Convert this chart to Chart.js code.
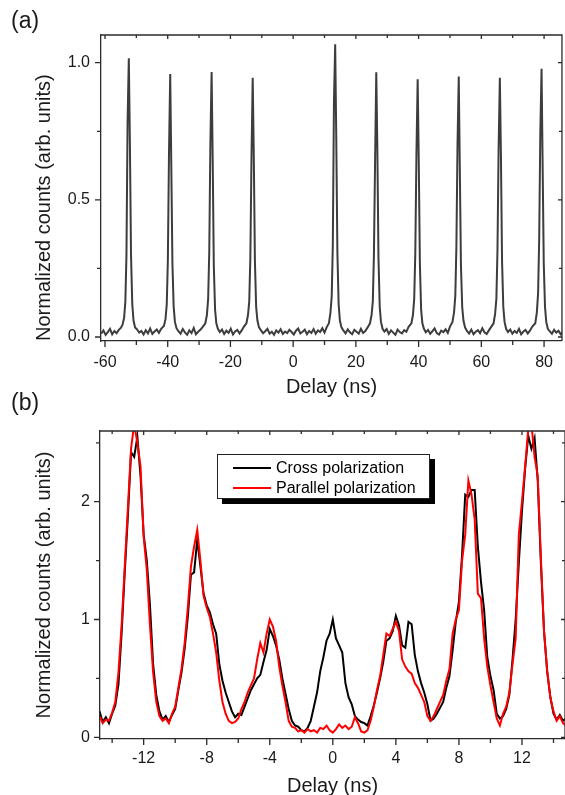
<!DOCTYPE html>
<html>
<head>
<meta charset="utf-8">
<script src="https://cdn.jsdelivr.net/npm/chart.js@4.4.1/dist/chart.umd.min.js"></script>
<style>
  body { margin: 0; background: #fff; width: 565px; height: 795px; overflow: hidden; position: relative;
         font-family: "Liberation Sans", Arial, sans-serif; color: #1a1a1a; }
  canvas { position: absolute; left: 0; }
  #chartA { top: 0; }
  #chartB { top: 400px; }
  .panel { position: absolute; left: 11px; font-size: 23px; line-height: 23px; }
  #legend { position: absolute; left: 217px; top: 454px; width: 213px; height: 45px; box-sizing: border-box;
            border: 1px solid #222; background: #fff; box-shadow: 5px 5px 0 #000; }
  .row { position: absolute; left: 15px; height: 20px; display: flex; align-items: center; font-size: 16px; white-space: nowrap; color: #000; }
  .swatch { display: inline-block; width: 38px; border-top: 2px solid; margin-right: 5px; }
</style>
</head>
<body>
<canvas id="chartA" width="565" height="400"></canvas>
<canvas id="chartB" width="565" height="400"></canvas>
<div class="panel" style="top: 9px;">(a)</div>
<div class="panel" style="top: 391px;">(b)</div>
<div id="legend">
  <div class="row" style="top: 3px;"><span class="swatch" style="border-color: #000;"></span>Cross polarization</div>
  <div class="row" style="top: 23px;"><span class="swatch" style="border-color: #f00;"></span>Parallel polarization</div>
</div>
<script>
// panel (a): delay in ns, normalized counts
const delayA = [
  -61.2, -60.5, -59.8, -59.1, -58.4, -57.7, -57.0, -56.3, -55.6, -54.9,
  -54.4, -53.9, -53.5, -53.15, -52.8, -52.4, -52.05, -51.7, -51.3, -50.9, -50.4,
  -49.8, -49.1, -48.4, -47.7, -47.0, -46.3, -45.6, -44.9, -44.2, -43.5, -42.8, -42.1,
  -41.2, -40.7, -40.3, -39.95, -39.6, -39.2, -38.85, -38.5, -38.1, -37.7, -37.2,
  -36.6, -35.9, -35.2, -34.5, -33.8, -33.1, -32.4, -31.7, -31.0, -30.3, -29.6, -28.9,
  -28.0, -27.5, -27.1, -26.75, -26.4, -26.0, -25.65, -25.3, -24.9, -24.5, -24.0,
  -23.4, -22.7, -22.0, -21.3, -20.6, -19.9, -19.2, -18.5, -17.8, -17.1, -16.4, -15.7,
  -14.9, -14.4, -14.0, -13.65, -13.3, -12.9, -12.55, -12.2, -11.8, -11.4, -10.9,
  -10.3, -9.6, -8.9, -8.2, -7.5, -6.8, -6.1, -5.4, -4.7, -4.0, -3.3, -2.6, -1.9, -1.2, -0.5,
  0.2, 0.9, 1.6, 2.3, 3.0, 3.7, 4.4, 5.1, 5.8, 6.5, 7.2, 7.9, 8.6, 9.3, 10.0, 10.7,
  11.4, 11.9, 12.3, 12.65, 13.0, 13.4, 13.75, 14.1, 14.5, 14.9, 15.4,
  16.0, 16.7, 17.4, 18.1, 18.8, 19.5, 20.2, 20.9, 21.6, 22.3, 23.0, 23.7,
  24.5, 25.0, 25.4, 25.75, 26.1, 26.5, 26.85, 27.2, 27.6, 28.0, 28.5,
  29.1, 29.8, 30.5, 31.2, 31.9, 32.6, 33.3, 34.0, 34.7, 35.4, 36.1, 36.8,
  37.7, 38.2, 38.6, 38.95, 39.3, 39.7, 40.05, 40.4, 40.8, 41.2, 41.7,
  42.3, 43.0, 43.7, 44.4, 45.1, 45.8, 46.5, 47.2, 47.9, 48.6, 49.3, 50.0,
  50.8, 51.3, 51.7, 52.05, 52.4, 52.8, 53.15, 53.5, 53.9, 54.3, 54.8,
  55.4, 56.1, 56.8, 57.5, 58.2, 58.9, 59.6, 60.3, 61.0, 61.7, 62.4, 63.1,
  63.9, 64.4, 64.8, 65.15, 65.5, 65.9, 66.25, 66.6, 67.0, 67.4, 67.9,
  68.5, 69.2, 69.9, 70.6, 71.3, 72.0, 72.7, 73.4, 74.1, 74.8, 75.5, 76.2,
  77.2, 77.7, 78.1, 78.45, 78.8, 79.2, 79.55, 79.9, 80.3, 80.7, 81.2,
  81.8, 82.5, 83.2, 83.9, 84.6, 85.3, 86.0
];
const countsA = [
  0.012, 0.024, 0.008, 0.018, 0.030, 0.010, 0.022, 0.014, 0.026, 0.034,
  0.045, 0.07, 0.13, 0.30, 0.78, 1.016, 0.70, 0.30, 0.12, 0.06, 0.035,
  0.028, 0.016, 0.022, 0.009, 0.025, 0.013, 0.031, 0.011, 0.020, 0.027, 0.015, 0.030,
  0.04, 0.065, 0.12, 0.28, 0.66, 0.959, 0.62, 0.27, 0.11, 0.055, 0.032,
  0.021, 0.012, 0.029, 0.017, 0.008, 0.024, 0.014, 0.033, 0.010, 0.019, 0.026, 0.036,
  0.05, 0.08, 0.14, 0.31, 0.70, 0.966, 0.64, 0.26, 0.10, 0.05, 0.03,
  0.018, 0.027, 0.011, 0.023, 0.015, 0.030, 0.009, 0.020, 0.026, 0.013, 0.024, 0.038,
  0.05, 0.08, 0.13, 0.29, 0.64, 0.945, 0.66, 0.28, 0.11, 0.06, 0.035,
  0.025, 0.014, 0.021, 0.030, 0.012, 0.019, 0.008, 0.024, 0.016, 0.028, 0.011, 0.020, 0.014, 0.026, 0.018,
  0.009, 0.023, 0.031, 0.013, 0.019, 0.027, 0.010, 0.022, 0.015, 0.029, 0.012, 0.024, 0.018, 0.032, 0.016, 0.036,
  0.05, 0.09, 0.15, 0.34, 0.85, 1.067, 0.72, 0.31, 0.12, 0.06, 0.035,
  0.024, 0.013, 0.028, 0.017, 0.010, 0.026, 0.019, 0.012, 0.030, 0.015, 0.022, 0.034,
  0.05, 0.08, 0.13, 0.30, 0.62, 0.965, 0.68, 0.29, 0.11, 0.055, 0.03,
  0.020, 0.029, 0.011, 0.024, 0.016, 0.008, 0.027, 0.018, 0.013, 0.025, 0.019, 0.037,
  0.05, 0.08, 0.14, 0.31, 0.66, 0.94, 0.64, 0.27, 0.10, 0.05, 0.03,
  0.017, 0.026, 0.012, 0.021, 0.031, 0.014, 0.009, 0.023, 0.018, 0.028, 0.015, 0.038,
  0.055, 0.09, 0.15, 0.33, 0.70, 0.95, 0.60, 0.26, 0.11, 0.06, 0.035,
  0.022, 0.013, 0.027, 0.010, 0.019, 0.025, 0.014, 0.032, 0.017, 0.011, 0.024, 0.036,
  0.05, 0.085, 0.14, 0.32, 0.68, 0.945, 0.66, 0.28, 0.11, 0.055, 0.03,
  0.018, 0.027, 0.012, 0.022, 0.015, 0.030, 0.010, 0.020, 0.026, 0.013, 0.023, 0.037,
  0.05, 0.09, 0.16, 0.36, 0.74, 0.978, 0.62, 0.27, 0.11, 0.055, 0.03,
  0.021, 0.012, 0.026, 0.016, 0.023, 0.010, 0.019
];
const xTicksA = [-60, -50, -40, -30, -20, -10, 0, 10, 20, 30, 40, 50, 60, 70, 80];
const yTicksA = [0, 0.25, 0.5, 0.75, 1.0];

// panel (b): delay in ns, two polarizations
const delayB = [
  -14.8, -14.6, -14.4, -14.2, -14.0, -13.8, -13.6, -13.4, -13.2, -13.0,
  -12.8, -12.6, -12.4, -12.2, -12.0, -11.8, -11.6, -11.4, -11.2, -11.0,
  -10.8, -10.6, -10.4, -10.2, -10.0, -9.8, -9.6, -9.4, -9.2, -9.0,
  -8.8, -8.6, -8.4, -8.2, -8.0, -7.8, -7.6, -7.4, -7.2, -7.0,
  -6.8, -6.6, -6.4, -6.2, -6.0, -5.8, -5.6, -5.4, -5.2, -5.0,
  -4.8, -4.6, -4.4, -4.2, -4.0, -3.8, -3.6, -3.4, -3.2, -3.0,
  -2.8, -2.6, -2.4, -2.2, -2.0, -1.8, -1.6, -1.4, -1.2, -1.0,
  -0.8, -0.6, -0.4, -0.2, 0.0, 0.2, 0.4, 0.6, 0.8, 1.0,
  1.2, 1.4, 1.6, 1.8, 2.0, 2.2, 2.4, 2.6, 2.8, 3.0,
  3.2, 3.4, 3.6, 3.8, 4.0, 4.2, 4.4, 4.6, 4.8, 5.0,
  5.2, 5.4, 5.6, 5.8, 6.0, 6.2, 6.4, 6.6, 6.8, 7.0,
  7.2, 7.4, 7.6, 7.8, 8.0, 8.2, 8.4, 8.6, 8.8, 9.0,
  9.2, 9.4, 9.6, 9.8, 10.0, 10.2, 10.4, 10.6, 10.8, 11.0,
  11.2, 11.4, 11.6, 11.8, 12.0, 12.2, 12.4, 12.6, 12.8, 13.0,
  13.2, 13.4, 13.6, 13.8, 14.0, 14.2, 14.4, 14.6, 14.8
];
const crossPol = [
  0.22, 0.13, 0.17, 0.12, 0.20, 0.27, 0.45, 0.88, 1.40, 1.88,
  2.42, 2.38, 2.55, 2.22, 1.72, 1.50, 1.12, 0.62, 0.36, 0.22,
  0.15, 0.18, 0.13, 0.19, 0.24, 0.40, 0.55, 0.75, 1.02, 1.38,
  1.40, 1.68, 1.45, 1.22, 1.12, 1.06, 0.96, 0.88, 0.62, 0.48,
  0.38, 0.30, 0.22, 0.17, 0.20, 0.19, 0.26, 0.33, 0.40, 0.45,
  0.50, 0.53, 0.64, 0.74, 0.92, 0.86, 0.78, 0.66, 0.50, 0.37,
  0.24, 0.14, 0.10, 0.09, 0.06, 0.05, 0.08, 0.14, 0.26, 0.38,
  0.56, 0.68, 0.82, 0.88, 1.00, 0.84, 0.78, 0.72, 0.46, 0.34,
  0.28, 0.18, 0.15, 0.13, 0.12, 0.10, 0.18, 0.27, 0.38, 0.50,
  0.64, 0.82, 0.84, 0.90, 1.03, 0.95, 0.78, 0.76, 0.98, 0.96,
  0.70, 0.56, 0.46, 0.38, 0.28, 0.14, 0.16, 0.20, 0.25, 0.30,
  0.42, 0.52, 0.74, 0.98, 1.15, 1.55, 2.06, 2.04, 2.10, 2.10,
  1.62, 1.32, 1.08, 0.68, 0.52, 0.40, 0.20, 0.16, 0.18, 0.24,
  0.36, 0.66, 1.00, 1.48, 1.92, 2.28, 2.56, 2.45, 2.54, 2.18,
  1.48, 0.90, 0.56, 0.34, 0.20, 0.15, 0.19, 0.14, 0.16
];
const parallelPol = [
  0.18, 0.12, 0.15, 0.14, 0.21, 0.30, 0.55, 0.95, 1.45, 1.95,
  2.45, 2.66, 2.50, 2.30, 1.70, 1.42, 0.95, 0.55, 0.30, 0.18,
  0.14, 0.16, 0.12, 0.20, 0.26, 0.42, 0.58, 0.80, 1.10, 1.45,
  1.62, 1.76, 1.50, 1.20, 1.10, 1.02, 0.88, 0.72, 0.48, 0.30,
  0.20, 0.14, 0.12, 0.13, 0.16, 0.24, 0.30, 0.38, 0.44, 0.50,
  0.66, 0.80, 0.72, 0.88, 1.00, 0.94, 0.82, 0.60, 0.44, 0.30,
  0.14, 0.09, 0.08, 0.05, 0.06, 0.04, 0.07, 0.05, 0.06, 0.04,
  0.08, 0.07, 0.10, 0.06, 0.04, 0.07, 0.11, 0.08, 0.10, 0.07,
  0.09, 0.17, 0.12, 0.05, 0.04, 0.06, 0.14, 0.26, 0.40, 0.52,
  0.70, 0.88, 0.86, 0.92, 0.98, 0.90, 0.66, 0.60, 0.56, 0.54,
  0.46, 0.42, 0.36, 0.30, 0.18, 0.14, 0.18, 0.24, 0.30, 0.36,
  0.48, 0.58, 0.88, 1.00, 1.08, 1.50, 1.72, 2.18, 2.06, 1.85,
  1.22, 1.18, 0.84, 0.60, 0.44, 0.30, 0.16, 0.10, 0.20, 0.26,
  0.38, 0.62, 0.84, 1.72, 2.00, 2.30, 2.62, 2.66, 2.38, 2.22,
  1.52, 0.90, 0.56, 0.34, 0.22, 0.14, 0.18, 0.12, 0.10
];
const xTicksB = [-14, -12, -10, -8, -6, -4, -2, 0, 2, 4, 6, 8, 10, 12, 14];
const yTicksB = [0, 0.5, 1, 1.5, 2, 2.5];

Chart.defaults.font.family = '"Liberation Sans", Arial, sans-serif';
Chart.defaults.color = '#1a1a1a';

const axisColor = '#2b2b2b';

// closes the box (top + right) and draws all tick marks, long ones where there is a label
const framePlugin = {
  id: 'frame',
  afterDraw(chart) {
    const { ctx, chartArea: area, scales } = chart;
    const xs = scales.x;
    const ys = scales.y;
    ctx.save();
    ctx.strokeStyle = axisColor;
    ctx.lineWidth = 1.3;
    ctx.beginPath();
    ctx.moveTo(area.left, area.top);
    ctx.lineTo(area.right, area.top);
    ctx.lineTo(area.right, area.bottom);
    xs.ticks.forEach(t => {
      const px = xs.getPixelForValue(t.value);
      const major = t.label !== '';
      ctx.moveTo(px, area.bottom);
      ctx.lineTo(px, area.bottom + (major ? 6 : 4));
      ctx.moveTo(px, area.top);
      ctx.lineTo(px, area.top + (major ? 4 : 3));
    });
    ys.ticks.forEach(t => {
      const py = ys.getPixelForValue(t.value);
      const major = t.label !== '';
      ctx.moveTo(area.left, py);
      ctx.lineTo(area.left - (major ? 6 : 4), py);
      ctx.moveTo(area.right, py);
      ctx.lineTo(area.right - (major ? 4 : 3), py);
    });
    ctx.stroke();
    ctx.restore();
  }
};

const yTitleText = 'Normalized counts (arb. units)';

new Chart(document.getElementById('chartA'), {
  type: 'line',
  data: {
    datasets: [{
      data: delayA.map((d, i) => ({ x: d, y: countsA[i] })),
      borderColor: '#3d3d3d',
      borderWidth: 2,
      pointRadius: 0,
      tension: 0,
      clip: 0
    }]
  },
  options: {
    responsive: false,
    animation: false,
    devicePixelRatio: 1,
    layout: { padding: { top: 35, right: 1, left: 0, bottom: 0 } },
    plugins: { legend: { display: false }, tooltip: { enabled: false } },
    scales: {
      x: {
        type: 'linear',
        min: -61.27,
        max: 85.71,
        afterBuildTicks: s => { s.ticks = xTicksA.map(v => ({ value: v })); },
        afterFit: s => { s.height = 59; },
        grid: { display: false, drawTicks: false },
        border: { display: true, color: axisColor, width: 1.3 },
        ticks: { padding: 12, autoSkip: false, maxRotation: 0, font: { size: 16 },
                 callback: v => (v % 20 === 0 ? String(v) : '') },
        title: { display: true, text: 'Delay (ns)', font: { size: 20 }, padding: { top: 0, bottom: 1 } }
      },
      y: {
        min: -0.0146,
        max: 1.101,
        afterBuildTicks: s => { s.ticks = yTicksA.map(v => ({ value: v })); },
        afterFit: s => { s.width = 101; },
        grid: { display: false, drawTicks: false },
        border: { display: true, color: axisColor, width: 1.3 },
        ticks: { padding: 11, autoSkip: false, font: { size: 16 },
                 callback: v => (Math.abs(v % 0.5) < 1e-9 ? v.toFixed(1) : '') },
        // in (a) the label starts at the x axis instead of being centred
        title: { display: true, text: yTitleText, font: { size: 20 }, align: 'start', padding: { top: 32, bottom: 0 } }
      }
    }
  },
  plugins: [framePlugin]
});

new Chart(document.getElementById('chartB'), {
  type: 'line',
  data: {
    datasets: [
      {
        label: 'Cross polarization',
        data: delayB.map((d, i) => ({ x: d, y: crossPol[i] })),
        borderColor: '#000',
        borderWidth: 2,
        pointRadius: 0,
        tension: 0,
        clip: 0,
        order: 1
      },
      {
        label: 'Parallel polarization',
        data: delayB.map((d, i) => ({ x: d, y: parallelPol[i] })),
        borderColor: '#f00',
        borderWidth: 2,
        pointRadius: 0,
        tension: 0,
        clip: 0,
        order: 0
      }
    ]
  },
  options: {
    responsive: false,
    animation: false,
    devicePixelRatio: 1,
    layout: { padding: { top: 31, right: 0, left: 0, bottom: 0 } },
    plugins: { legend: { display: false }, tooltip: { enabled: false } },
    scales: {
      x: {
        type: 'linear',
        min: -14.77,
        max: 14.73,
        afterBuildTicks: s => { s.ticks = xTicksB.map(v => ({ value: v })); },
        afterFit: s => { s.height = 61; },
        grid: { display: false, drawTicks: false },
        border: { display: true, color: axisColor, width: 1.3 },
        ticks: { padding: 10, autoSkip: false, maxRotation: 0, font: { size: 16 },
                 callback: v => (v % 4 === 0 ? String(v) : '') },
        title: { display: true, text: 'Delay (ns)', font: { size: 20 }, padding: { top: 0, bottom: 2 } }
      },
      y: {
        min: -0.0144,
        max: 2.6,
        afterBuildTicks: s => { s.ticks = yTicksB.map(v => ({ value: v })); },
        afterFit: s => { s.width = 100; },
        grid: { display: false, drawTicks: false },
        border: { display: true, color: axisColor, width: 1.3 },
        ticks: { padding: 10, autoSkip: false, font: { size: 16 },
                 callback: v => (Number.isInteger(v) ? String(v) : '') },
        title: { display: true, text: yTitleText, font: { size: 20 }, padding: { top: 32, bottom: 0 } }
      }
    }
  },
  plugins: [framePlugin]
});
</script>
</body>
</html>
